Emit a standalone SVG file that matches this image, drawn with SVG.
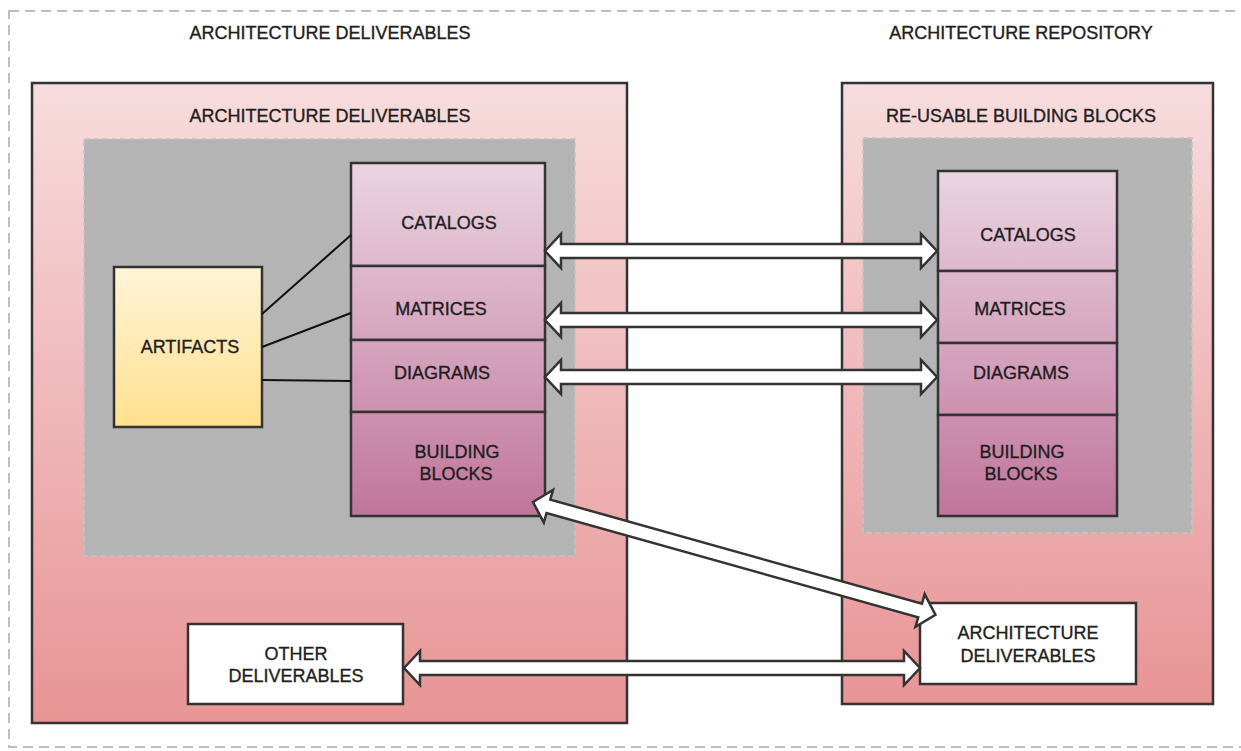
<svg xmlns="http://www.w3.org/2000/svg" width="1241" height="751" viewBox="0 0 1241 751">
<defs>
<linearGradient id="gPanel" x1="0" y1="0" x2="0" y2="1">
<stop offset="0" stop-color="#f7dcdd"/>
<stop offset="1" stop-color="#e89495"/>
</linearGradient>
<linearGradient id="gYellow" x1="0" y1="0" x2="0" y2="1">
<stop offset="0" stop-color="#fff4d8"/>
<stop offset="1" stop-color="#ffe08e"/>
</linearGradient>
<linearGradient id="gStackL" gradientUnits="userSpaceOnUse" x1="0" y1="163" x2="0" y2="516">
<stop offset="0" stop-color="#ead4e1"/>
<stop offset="1" stop-color="#c0759b"/>
</linearGradient>
<linearGradient id="gStackR" gradientUnits="userSpaceOnUse" x1="0" y1="171" x2="0" y2="516">
<stop offset="0" stop-color="#ead4e1"/>
<stop offset="1" stop-color="#c0759b"/>
</linearGradient>
<style>
text{font-family:"Liberation Sans",Arial,sans-serif;font-size:18px;fill:#1e1e1e;stroke:#1e1e1e;stroke-width:0.35;text-anchor:middle}
.box{stroke:#333;stroke-width:2.5}
.panel{fill:url(#gPanel);stroke:#333;stroke-width:2.5}
.gray{fill:#b4b4b4;stroke:#c4c4c4;stroke-width:1.5;stroke-dasharray:6 3}
.white{fill:#fff;stroke:#333;stroke-width:2.5}
.link{stroke:#111;stroke-width:2;fill:none}
.barrow{fill:#fff;stroke:#333;stroke-width:2.5;stroke-linejoin:miter}
</style>
</defs>
<rect x="9" y="11" width="1260" height="736" fill="none" stroke="#bdbdbd" stroke-width="2" stroke-dasharray="10 6"/>
<text x="330" y="39">ARCHITECTURE DELIVERABLES</text>
<text x="1021" y="39">ARCHITECTURE REPOSITORY</text>

<g id="left-panel">
<rect class="panel" x="32" y="83" width="595" height="640"/>
<text x="330" y="122">ARCHITECTURE DELIVERABLES</text>
<rect class="gray" x="84" y="139" width="491" height="417"/>
</g>
<g id="right-panel">
<rect class="panel" x="842" y="83" width="371" height="621"/>
<text x="1021" y="122">RE-USABLE BUILDING BLOCKS</text>
<rect class="gray" x="863" y="138" width="329" height="395"/>
</g>

<g id="artifacts">
<rect class="box" x="114" y="267" width="148" height="160" fill="url(#gYellow)"/>
<text x="190" y="353">ARTIFACTS</text>
</g>

<g id="left-catalogs"><rect class="box" x="351" y="163" width="194" height="103" fill="url(#gStackL)"/><text x="449" y="229">CATALOGS</text></g>
<g id="left-matrices"><rect class="box" x="351" y="266" width="194" height="74" fill="url(#gStackL)"/><text x="441" y="315">MATRICES</text></g>
<g id="left-diagrams"><rect class="box" x="351" y="340" width="194" height="72" fill="url(#gStackL)"/><text x="442" y="379">DIAGRAMS</text></g>
<g id="left-building-blocks"><rect class="box" x="351" y="412" width="194" height="104" fill="url(#gStackL)"/><text x="457" y="458">BUILDING</text><text x="456" y="480">BLOCKS</text></g>

<g id="right-catalogs"><rect class="box" x="938" y="171" width="179" height="100" fill="url(#gStackR)"/><text x="1028" y="241">CATALOGS</text></g>
<g id="right-matrices"><rect class="box" x="938" y="271" width="179" height="72" fill="url(#gStackR)"/><text x="1020" y="315">MATRICES</text></g>
<g id="right-diagrams"><rect class="box" x="938" y="343" width="179" height="72" fill="url(#gStackR)"/><text x="1021" y="379">DIAGRAMS</text></g>
<g id="right-building-blocks"><rect class="box" x="938" y="415" width="179" height="101" fill="url(#gStackR)"/><text x="1022" y="458">BUILDING</text><text x="1021" y="480">BLOCKS</text></g>

<g id="other-deliverables">
<rect class="white" x="188" y="624" width="215" height="80"/>
<text x="296" y="660">OTHER</text><text x="296" y="682">DELIVERABLES</text>
</g>
<g id="architecture-deliverables">
<rect class="white" x="920" y="603" width="216" height="81"/>
<text x="1028" y="639">ARCHITECTURE</text><text x="1028" y="662">DELIVERABLES</text>
</g>

<g id="connectors">
<line class="link" x1="262" y1="314" x2="351" y2="235"/>
<line class="link" x1="262" y1="347" x2="351" y2="313"/>
<line class="link" x1="262" y1="380" x2="351" y2="381"/>
<polygon class="barrow" points="545,251 561,234 561,244 921,244 921,234 937,251 921,268 921,258 561,258 561,268"/>
<polygon class="barrow" points="545,320 561,303 561,313 921,313 921,303 937,320 921,337 921,327 561,327 561,337"/>
<polygon class="barrow" points="545,377 561,360 561,370 921,370 921,360 937,377 921,394 921,384 561,384 561,394"/>
<polygon class="barrow" points="404,668 420,651 420,661 904,661 904,651 920,668 904,685 904,675 420,675 420,685"/>
<polygon class="barrow" transform="translate(533,502) rotate(15.66)" points="0,0 16,-17 16,-7 402,-7 402,-17 418,0 402,17 402,7 16,7 16,17"/>
</g>
</svg>
